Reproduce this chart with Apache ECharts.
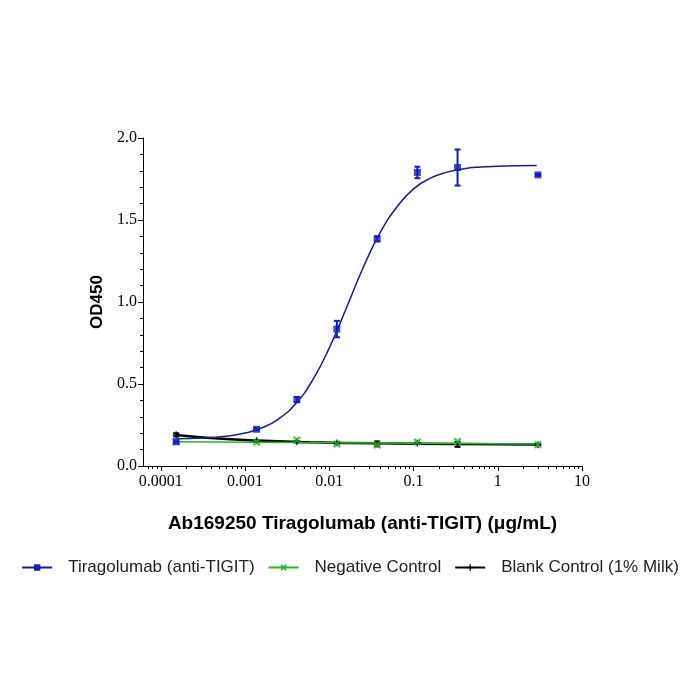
<!DOCTYPE html>
<html>
<head>
<meta charset="utf-8">
<script src="https://cdn.jsdelivr.net/npm/echarts@6/dist/echarts.min.js"></script>
<style>
  html, body { margin: 0; padding: 0; background: #fff; }
  #chart { width: 700px; height: 700px; }
</style>
</head>
<body>
<div id="chart"></div>
<script>
// concentrations (ug/mL) of the measured points
var conc = [0.000152, 0.00137, 0.00412, 0.0123, 0.037, 0.111, 0.333, 3];

// OD450 means and error (half range) per group
var tiraMean = [0.148, 0.224, 0.405, 0.835, 1.385, 1.79, 1.82, 1.775];
var tiraErr  = [0.005, 0.006, 0.016, 0.05, 0.015, 0.035, 0.11, 0.005];
var negMean  = [0.148, 0.145, 0.159, 0.134, 0.128, 0.146, 0.150, 0.130];
var blankMean = [0.190, 0.155, 0.148, 0.140, 0.135, 0.138, 0.132, 0.130];
var blankErr  = [0.010, 0.004, 0.004, 0.004, 0.015, 0.004, 0.015, 0.004];

// fitted curves (x = log10 concentration)
var tiraCurveX = [-3.814, -3.5, -3.2, -3.0, -2.8, -2.6, -2.4, -2.2, -2.0, -1.8, -1.6, -1.4, -1.2, -1.0, -0.8, -0.6, -0.4, -0.2, 0.0, 0.2, 0.462];
var tiraCurveY = [0.166, 0.170, 0.183, 0.201, 0.233, 0.288, 0.380, 0.522, 0.720, 0.960, 1.207, 1.420, 1.578, 1.690, 1.755, 1.792, 1.813, 1.823, 1.828, 1.831, 1.833];
var negCurveX = [-3.814, -1.5, 0.462];
var negCurveY = [0.148, 0.141, 0.134];
var blankCurveX = [-3.814, -3.457, -2.860, -2.230, -1.435, -0.485, 0.462];
var blankCurveY = [0.189, 0.172, 0.155, 0.145, 0.138, 0.134, 0.131];

// axis ticks
var xMajorLog = [-4, -3, -2, -1, 0, 1];
var xMajorLabels = ['0.0001', '0.001', '0.01', '0.1', '1', '10'];
var xMin = -4.212, xMax = 1;

var blue = '#1a1a9c', green = '#22bb22', black = '#000000';
var xSym = 'path://M2,0 L5,3 L8,0 L10,2 L7,5 L10,8 L8,10 L5,7 L2,10 L0,8 L3,5 L0,2 Z';
var plusSym = 'path://M4,0 L6,0 L6,4 L10,4 L10,6 L6,6 L6,10 L4,10 L4,6 L0,6 L0,4 L4,4 Z';

// minor ticks 2..9 of each decade inside the axis range
var xMinorLog = [];
for (var d = -5; d < 1; d++) {
    for (var k = 2; k <= 9; k++) {
        var v = d + Math.log10(k);
        if (v >= xMin && v <= xMax) xMinorLog.push(v);
    }
}

function pairs(xs, ys) {
    return xs.map(function (x, i) { return [x, ys[i]]; });
}
function points(ys) {
    return conc.map(function (c, i) { return [Math.log10(c), ys[i]]; });
}
function bars(ys, es) {
    return conc.map(function (c, i) { return [Math.log10(c), ys[i] - es[i], ys[i] + es[i]]; });
}

function errorBar(color, width) {
    return function (params, api) {
        var x = api.value(0);
        var lo = api.coord([x, api.value(1)]);
        var hi = api.coord([x, api.value(2)]);
        var half = 3;
        var st = { stroke: color, lineWidth: width };
        return {
            type: 'group',
            children: [
                { type: 'line', shape: { x1: lo[0], y1: lo[1], x2: hi[0], y2: hi[1] }, style: st },
                { type: 'line', shape: { x1: lo[0] - half, y1: lo[1], x2: lo[0] + half, y2: lo[1] }, style: st },
                { type: 'line', shape: { x1: hi[0] - half, y1: hi[1], x2: hi[0] + half, y2: hi[1] }, style: st }
            ]
        };
    };
}

var chart = echarts.init(document.getElementById('chart'));

var option = {
    animation: false,
    backgroundColor: '#fff',
    grid: { left: 143, right: 118, top: 138, bottom: 234 },
    legend: {
        top: 554,
        left: 'center',
        itemWidth: 30,
        itemHeight: 8,
        itemGap: 13,
        textStyle: { fontFamily: 'Liberation Sans', fontSize: 17, color: '#222', padding: [0, 0, 0, 11] },
        data: ['Tiragolumab (anti-TIGIT)', 'Negative Control', 'Blank Control (1% Milk)']
    },
    xAxis: [
        {
            type: 'value',
            min: xMin,
            max: xMax,
            name: 'Ab169250 Tiragolumab (anti-TIGIT) (μg/mL)',
            nameLocation: 'middle',
            nameGap: 48,
            nameTextStyle: { fontFamily: 'Liberation Sans', fontWeight: 'bold', fontSize: 19, color: '#000' },
            splitLine: { show: false },
            axisLine: { onZero: false, lineStyle: { color: '#000', width: 1 } },
            axisTick: { customValues: xMajorLog, length: 5, lineStyle: { color: '#000' } },
            axisLabel: {
                customValues: xMajorLog,
                margin: 8,
                fontFamily: 'Liberation Serif',
                fontSize: 16,
                color: '#000',
                formatter: function (v) {
                    var i = xMajorLog.indexOf(Math.round(v));
                    return i >= 0 ? xMajorLabels[i] : '';
                }
            }
        },
        {
            type: 'value',
            min: xMin,
            max: xMax,
            position: 'bottom',
            splitLine: { show: false },
            axisLine: { show: false, onZero: false },
            axisLabel: { show: false },
            axisTick: { customValues: xMinorLog, length: 3, lineStyle: { color: '#000' } }
        }
    ],
    yAxis: {
        type: 'value',
        min: 0,
        max: 2,
        interval: 0.5,
        name: 'OD450',
        nameLocation: 'middle',
        nameGap: 34,
        nameTextStyle: { fontFamily: 'Liberation Sans', fontWeight: 'bold', fontSize: 17, color: '#000' },
        splitLine: { show: false },
        axisLine: { show: true, onZero: false, lineStyle: { color: '#000', width: 1 } },
        axisTick: { show: true, length: 5, lineStyle: { color: '#000' } },
        minorTick: { show: true, splitNumber: 5, length: 3, lineStyle: { color: '#000' } },
        axisLabel: {
            margin: 6,
            fontFamily: 'Liberation Serif',
            fontSize: 16,
            color: '#000',
            formatter: function (v) { return v.toFixed(1); }
        }
    },
    series: [
        {
            name: 'Tiragolumab (anti-TIGIT)', type: 'line', smooth: 0.5,
            data: pairs(tiraCurveX, tiraCurveY),
            symbol: 'rect', symbolSize: 7, showSymbol: false,
            itemStyle: { color: '#1020b0' },
            lineStyle: { color: blue, width: 1.5 }, z: 3
        },
        {
            name: 'Blank Control (1% Milk)', type: 'line', smooth: 0.5,
            data: pairs(blankCurveX, blankCurveY),
            symbol: plusSym, symbolSize: 8, showSymbol: false,
            itemStyle: { color: black },
            lineStyle: { color: black, width: 2.5 }, z: 2
        },
        {
            name: 'Negative Control', type: 'line',
            data: pairs(negCurveX, negCurveY),
            symbol: xSym, symbolSize: 8, showSymbol: false,
            itemStyle: { color: green },
            lineStyle: { color: green, width: 1.5 }, z: 3
        },
        {
            name: 'Blank Control (1% Milk)', type: 'custom',
            renderItem: errorBar(black, 2),
            encode: { x: 0, y: [1, 2] },
            data: bars(blankMean, blankErr), z: 4
        },
        {
            name: 'Blank Control (1% Milk)', type: 'scatter',
            data: points(blankMean), symbol: plusSym, symbolSize: 7,
            itemStyle: { color: black }, z: 4
        },
        {
            name: 'Negative Control', type: 'scatter',
            data: points(negMean), symbol: xSym, symbolSize: 8,
            itemStyle: { color: green }, z: 5
        },
        {
            name: 'Tiragolumab (anti-TIGIT)', type: 'custom',
            renderItem: errorBar('#1020b0', 2),
            encode: { x: 0, y: [1, 2] },
            data: bars(tiraMean, tiraErr), z: 6
        },
        {
            name: 'Tiragolumab (anti-TIGIT)', type: 'scatter',
            data: points(tiraMean), symbol: 'rect', symbolSize: 7,
            itemStyle: { color: '#1020b0' }, z: 6
        }
    ]
};

chart.setOption(option);
</script>
</body>
</html>
